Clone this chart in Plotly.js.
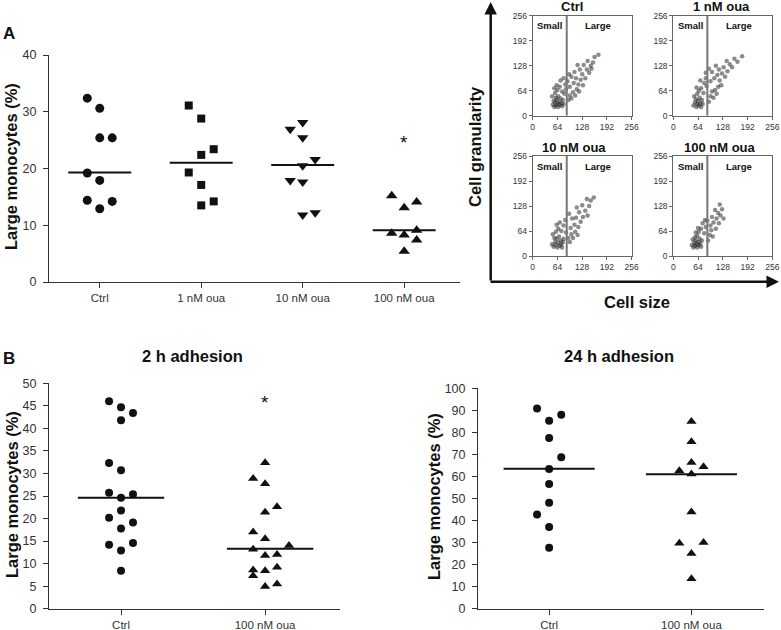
<!DOCTYPE html>
<html>
<head>
<meta charset="utf-8">
<script src="https://cdn.plot.ly/plotly-3.0.1.min.js"></script>
<style>
  html, body { margin: 0; padding: 0; background: #fff; }
  #chart { width: 781px; height: 630px; }
</style>
</head>
<body>
<div id="chart"></div>
<script>
// ---- panel A: large monocytes after ouabain (%) ----
var groupsA = ['Ctrl', '1 nM oua', '10 nM oua', '100 nM oua'];
var ctrlA = [32.4, 30.6, 25.4, 25.4, 19.2, 17.9, 14.4, 14.2, 12.9];
var ctrlACol = [-1, 0, 0, 1, -1, 0, -1, 1, 0];
var oua1A = [31.1, 28.8, 23.4, 22.4, 19.3, 17.1, 14.2, 13.5];
var oua1ACol = [-1, 0, 1, 0, -1, 0, 1, 0];
var oua10A = [28.1, 26.9, 25.4, 21.6, 20.5, 17.9, 17.6, 12.2, 11.8];
var oua10ACol = [0, -1, 0, 1, 0, -1, 0, 1, 0];
var oua100A = [15.2, 14.1, 13.1, 9.1, 8.6, 8.3, 7.4, 5.4];
var oua100ACol = [-1, 1, 0, 1, -1, 0, 1, 0];
var medianA = [19.3, 21.0, 20.6, 9.1];
var starA = 25.3;

// ---- panel B: 2 h adhesion ----
var groupsB = ['Ctrl', '100 nM oua'];
var ctrl2h = [46.0, 44.7, 43.4, 41.8, 32.3, 30.7, 25.7, 25.4, 24.6, 21.8, 20.2, 19.1, 17.8, 14.6, 14.2, 12.9, 8.4];
var ctrl2hCol = [-1, 0, 1, 0, -1, 0, -1, 1, 0, 0, -1, 1, 0, 1, -1, 0, 0];
var oua2h = [32.4, 28.9, 27.7, 22.6, 21.4, 17.0, 15.5, 14.0, 13.2, 12.0, 11.8, 9.2, 8.6, 8.4, 7.3, 5.5, 4.9];
var oua2hCol = [0, -1, 0, 1, 0, -1, 0, 2, -1, 1, 0, 1, -1, 0, -1, 1, 0];
var median2h = [24.6, 13.3];
var star2h = 46.6;

// ---- panel B: 24 h adhesion ----
var ctrl24h = [90.8, 88.0, 85.3, 77.5, 68.7, 63.4, 56.6, 48.1, 42.7, 37.1, 27.7];
var ctrl24hCol = [-1, 1, 0, 0, 1, 0, 0, 0, -1, 0, 0];
var oua24h = [84.9, 75.8, 66.3, 64.4, 62.6, 61.1, 43.9, 30.0, 29.7, 25.1, 13.6];
var oua24hCol = [0, 0, 0, 1, -1, 0, 0, 1, -1, 0, 0];
var median24h = [63.5, 61.0];

// ---- flow cytometry: cell size vs granularity (approximate cloud) ----
var flowTitles = ['Ctrl', '1 nM oua', '10 nM oua', '100 nM oua'];
var flowTicks = [0, 64, 128, 192, 256];
var gateSize = 88;
var flowCtrlX = [52,56,58,60,62,64,66,68,70,72,74,76,60,54,66,78,80,
  50,58,64,70,76,82,84,72,80,62,86,56,
  92,96,100,104,110,114,120,96,106,112,118,124,130,128,136,140,122,146,150,132,142,156,160,170,100,108,90,94,116,152];
var flowCtrlY = [28,22,34,26,40,30,22,36,28,44,32,24,46,38,50,40,30,
  50,58,66,74,62,56,80,90,96,78,68,70,
  40,52,44,60,52,68,62,74,84,96,80,92,78,106,96,118,118,110,128,130,140,136,150,156,100,112,88,106,130,120];
var flow1X = [52,56,60,62,64,66,70,72,58,68,74,76,54,62,
  66,72,78,80,70,84,60,86,
  92,96,100,104,108,112,116,96,106,114,120,126,124,134,130,140,146,138,152,158,166,178,100,92,110,118,84];
var flow1Y = [26,34,22,30,38,26,32,22,42,46,40,30,50,56,
  64,70,58,84,90,96,72,76,
  36,50,62,46,66,56,74,88,96,104,90,108,78,100,124,114,132,140,124,146,138,152,112,120,128,118,110];
var flow10X = [50,54,58,60,62,64,66,70,72,74,56,68,78,76,80,
  52,60,66,74,80,70,84,62,86,
  92,96,100,104,110,116,98,108,118,124,112,130,120,136,142,128,146,150,140,158,102,94,114];
var flow10Y = [30,24,36,28,44,22,34,26,40,30,46,50,36,22,44,
  56,62,70,64,78,86,92,80,60,
  46,36,56,46,62,54,72,80,74,88,98,100,112,116,104,130,128,142,146,150,96,108,124];
var flow100X = [48,52,54,56,58,60,62,64,66,68,70,56,62,72,50,74,
  58,66,72,80,76,64,84,82,
  90,94,98,102,96,104,110,112,118,116,122,126,108,120,130,100,88];
var flow100Y = [28,22,34,26,40,30,22,36,28,44,32,48,52,24,42,40,
  60,62,70,58,84,72,74,92,
  40,54,66,50,78,86,70,96,84,110,104,120,118,132,96,100,90];

var W = 781, H = 630;
function px(x) { return x / W; }
function py(y) { return 1 - y / H; }

var black = '#111';
var axisColor = '#333';

function dots(vals, cols, cat, step, symbol, size, xa, ya) {
  return {
    type: 'scatter', mode: 'markers', xaxis: xa, yaxis: ya,
    x: vals.map(function (v, i) { return cat + cols[i] * step; }),
    y: vals,
    marker: { symbol: symbol, size: size, color: black },
    cliponaxis: false, hoverinfo: 'skip'
  };
}

function medianLine(med, cat, half, xa, ya) {
  return {
    type: 'scatter', mode: 'lines', xaxis: xa, yaxis: ya,
    x: [cat - half, cat + half], y: [med, med],
    line: { color: black, width: 2 }, hoverinfo: 'skip'
  };
}

function cloud(xs, ys, xa, ya) {
  return {
    type: 'scatter', mode: 'markers', xaxis: xa, yaxis: ya,
    x: xs, y: ys,
    marker: { size: 4.5, color: '#1a1a1a', opacity: 0.5 },
    hoverinfo: 'skip'
  };
}

function gate(xa, ya) {
  return {
    type: 'scatter', mode: 'lines', xaxis: xa, yaxis: ya,
    x: [gateSize, gateSize], y: [0, 256],
    line: { color: '#777', width: 2 }, hoverinfo: 'skip'
  };
}

var traces = [];

// panel A
var stepA = 0.123;
traces.push(dots(ctrlA, ctrlACol, 0, stepA, 'circle', 9, 'x', 'y'));
traces.push(dots(oua1A, oua1ACol, 1, stepA, 'square', 8, 'x', 'y'));
traces.push(dots(oua10A, oua10ACol, 2, stepA, 'triangle-down', 10, 'x', 'y'));
traces.push(dots(oua100A, oua100ACol, 3, stepA, 'triangle-up', 10, 'x', 'y'));
medianA.forEach(function (m, i) { traces.push(medianLine(m, i, 0.31, 'x', 'y')); });

// panel B, 2 h
var stepB = 0.083;
traces.push(dots(ctrl2h, ctrl2hCol, 0, stepB, 'circle', 8, 'x6', 'y6'));
traces.push(dots(oua2h, oua2hCol, 1, stepB, 'triangle-up', 9, 'x6', 'y6'));
traces.push(medianLine(median2h[0], 0, 0.3, 'x6', 'y6'));
traces.push(medianLine(median2h[1], 1.035, 0.3, 'x6', 'y6'));

// panel B, 24 h
traces.push(dots(ctrl24h, ctrl24hCol, 0, 0.085, 'circle', 8, 'x7', 'y7'));
traces.push(dots(oua24h, oua24hCol, 1, 0.085, 'triangle-up', 9, 'x7', 'y7'));
median24h.forEach(function (m, i) { traces.push(medianLine(m, i, 0.32, 'x7', 'y7')); });

// flow panels
var flowData = [[flowCtrlX, flowCtrlY], [flow1X, flow1Y], [flow10X, flow10Y], [flow100X, flow100Y]];
flowData.forEach(function (d, i) {
  var xa = 'x' + (i + 2), ya = 'y' + (i + 2);
  traces.push(cloud(d[0], d[1], xa, ya));
  traces.push(gate(xa, ya));
});

function mainAxis(extra) {
  var a = {
    showline: true, linecolor: axisColor, linewidth: 1,
    ticks: 'outside', ticklen: 5, tickcolor: axisColor, tickwidth: 1,
    tickfont: { size: 11.5, color: '#333' },
    showgrid: false, zeroline: false, fixedrange: true
  };
  for (var k in extra) a[k] = extra[k];
  return a;
}

function flowAxis(extra) {
  var a = {
    showline: true, mirror: true, linecolor: '#666', linewidth: 1,
    ticks: 'outside', ticklen: 3, tickcolor: '#666',
    tickfont: { size: 8.5, color: '#333' },
    tickvals: flowTicks, range: [0, 256],
    showgrid: false, zeroline: false, fixedrange: true
  };
  for (var k in extra) a[k] = extra[k];
  return a;
}

var flowBoxes = [
  { x: [532.7, 631.7], y: [15.7, 115.7] },
  { x: [673.3, 772.3], y: [15.7, 115.7] },
  { x: [532.7, 631.7], y: [156, 256] },
  { x: [673.3, 772.3], y: [156, 256] }
];

var yTickFont = { size: 12.5, color: '#333' };

var layout = {
  width: W, height: H,
  margin: { l: 0, r: 0, t: 0, b: 0 },
  paper_bgcolor: '#fff', plot_bgcolor: 'rgba(0,0,0,0)',
  showlegend: false,
  font: { family: 'Liberation Sans, Arial, sans-serif', color: '#111' },
  xaxis: mainAxis({ domain: [px(49), px(460)], range: [-0.5, 3.55], tickvals: [0, 1, 2, 3], ticktext: groupsA, anchor: 'y' }),
  yaxis: mainAxis({ domain: [py(282), py(55)], range: [0, 40], dtick: 10, anchor: 'x', tickfont: yTickFont, ticklabelstandoff: 4 }),
  xaxis6: mainAxis({ domain: [px(49), px(340)], range: [-0.5, 1.52], tickvals: [0, 1], ticktext: groupsB, anchor: 'y6' }),
  yaxis6: mainAxis({ domain: [py(608.7), py(383.3)], range: [0, 50], dtick: 5, anchor: 'x6', tickfont: yTickFont, ticklabelstandoff: 4 }),
  xaxis7: mainAxis({ domain: [px(478), px(764)], range: [-0.5, 1.51], tickvals: [0, 1], ticktext: groupsB, anchor: 'y7' }),
  yaxis7: mainAxis({ domain: [py(608.7), py(388.3)], range: [0, 100], dtick: 10, anchor: 'x7', tickfont: yTickFont, ticklabelstandoff: 4 }),
  annotations: []
};

flowBoxes.forEach(function (b, i) {
  var n = i + 2;
  layout['xaxis' + n] = flowAxis({ domain: [px(b.x[0]), px(b.x[1])], anchor: 'y' + n });
  layout['yaxis' + n] = flowAxis({ domain: [py(b.y[1]), py(b.y[0])], anchor: 'x' + n });
  layout.annotations.push({
    xref: 'x' + n, yref: 'y' + n, x: 44, y: 230, text: 'Small', showarrow: false,
    font: { size: 9.5, weight: 'bold', color: '#111' }
  });
  layout.annotations.push({
    xref: 'x' + n, yref: 'y' + n, x: 170, y: 230, text: 'Large', showarrow: false,
    font: { size: 9.5, weight: 'bold', color: '#111' }
  });
});

var ann = layout.annotations;
function paperText(x, y, text, size, angle) {
  ann.push({
    xref: 'paper', yref: 'paper', x: px(x), y: py(y), text: text,
    showarrow: false, xanchor: 'center', yanchor: 'middle', textangle: angle || 0,
    font: { size: size, weight: 'bold', color: '#111' }
  });
}

paperText(9, 33, 'A', 17);
paperText(9, 358, 'B', 17);
paperText(11, 167, 'Large monocytes (%)', 16.5, -90);
paperText(12, 495, 'Large monocytes (%)', 16.5, -90);
paperText(434, 497, 'Large monocytes (%)', 16.5, -90);
paperText(192, 356, '2 h adhesion', 16.5);
paperText(619, 356, '24 h adhesion', 16.5);
paperText(475, 147, 'Cell granularity', 16.5, -90);
paperText(637, 302, 'Cell size', 16.5);
paperText(572, 7, flowTitles[0], 13);
paperText(721, 7, flowTitles[1], 13);
paperText(574, 147, flowTitles[2], 13);
paperText(720, 147, flowTitles[3], 13);

// significance marks
ann.push({ xref: 'x', yref: 'y', x: 3, y: starA, text: '*', showarrow: false, yshift: -4,
  font: { size: 19, color: '#111' } });
ann.push({ xref: 'x6', yref: 'y6', x: 1, y: star2h, text: '*', showarrow: false, yshift: -4,
  font: { size: 19, color: '#111' } });

// big axis arrows for the flow block
ann.push({ xref: 'paper', yref: 'paper', x: px(490.7), y: py(2), ax: 0, ay: 280, axref: 'pixel', ayref: 'pixel',
  text: '', showarrow: true, arrowhead: 2, arrowsize: 1, arrowwidth: 2.5, arrowcolor: '#111', standoff: 0 });
ann.push({ xref: 'paper', yref: 'paper', x: px(779), y: py(281.7), ax: -290, ay: 0, axref: 'pixel', ayref: 'pixel',
  text: '', showarrow: true, arrowhead: 2, arrowsize: 1, arrowwidth: 2.5, arrowcolor: '#111', standoff: 0 });

Plotly.newPlot('chart', traces, layout, { displayModeBar: false, responsive: false });
</script>
</body>
</html>
